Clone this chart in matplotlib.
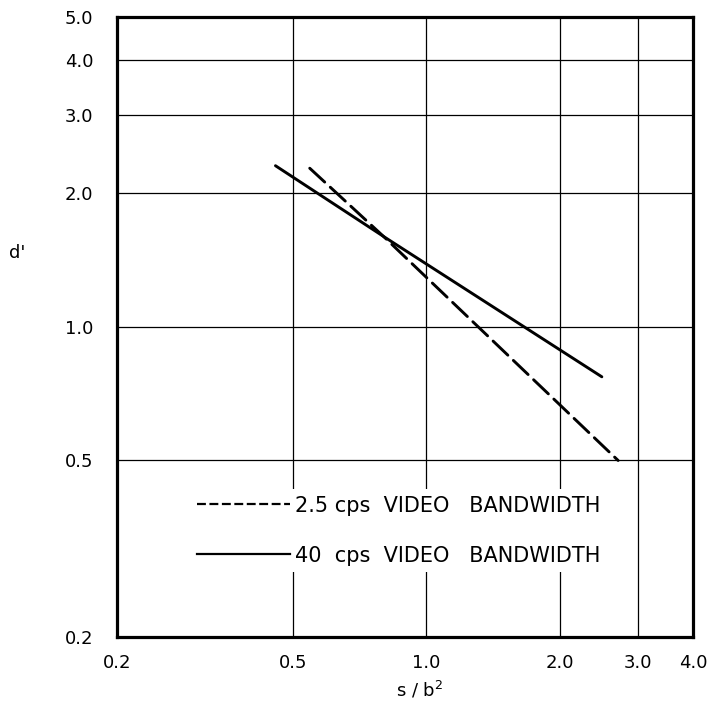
import matplotlib
matplotlib.use("Agg")
import matplotlib.pyplot as plt
from matplotlib.lines import Line2D
from matplotlib.ticker import FixedLocator, NullLocator

# data (log-log straight lines)
sb2_dashed = [0.545, 0.80, 2.71]
d_dashed = [2.28, 1.60, 0.50]
sb2_solid = [0.456, 0.80, 2.49]
d_solid = [2.31, 1.60, 0.772]

x_ticks = [0.2, 0.5, 1.0, 2.0, 3.0, 4.0]
x_ticklabels = ["0.2", "0.5", "1.0", "2.0", "3.0", "4.0"]
y_ticks = [0.2, 0.5, 1.0, 2.0, 3.0, 4.0, 5.0]
y_ticklabels = ["0.2", "0.5", "1.0", "2.0", "3.0", "4.0", "5.0"]
legend_labels = ["2.5 cps  VIDEO   BANDWIDTH", "40  cps  VIDEO   BANDWIDTH"]

fig = plt.figure(figsize=(7.12, 7.04), dpi=100)
ax = fig.add_axes([0.1643, 0.0952, 0.809, 0.8807])

ax.set_xscale("log")
ax.set_yscale("log")
ax.set_xlim(0.2, 4.0)
ax.set_ylim(0.2, 5.0)

# grid lines at the labelled values
for v in x_ticks[1:-1]:
    ax.axvline(v, color="black", lw=0.9, zorder=1)
for v in y_ticks[1:-1]:
    ax.axhline(v, color="black", lw=0.9, zorder=1)

ax.plot(sb2_dashed, d_dashed, color="black", lw=2.1, dashes=(7, 2.6),
        solid_capstyle="round", dash_capstyle="round", zorder=3)
ax.plot(sb2_solid, d_solid, color="black", lw=2.1,
        solid_capstyle="round", zorder=3)

ax.xaxis.set_major_locator(FixedLocator(x_ticks))
ax.xaxis.set_minor_locator(NullLocator())
ax.yaxis.set_major_locator(FixedLocator(y_ticks))
ax.yaxis.set_minor_locator(NullLocator())
ax.set_xticklabels(x_ticklabels)
ax.set_yticklabels(y_ticklabels)
ax.tick_params(length=0, labelsize=13)
ax.tick_params(axis="y", pad=17)
ax.tick_params(axis="x", pad=12)

for s in ax.spines.values():
    s.set_linewidth(2.3)

ax.set_ylabel("d'", rotation=0, fontsize=13, ha="center", va="center")
ax.yaxis.set_label_coords(-0.174, 0.619)
ax.set_xlabel("s / b$^{2}$", fontsize=13)
ax.xaxis.set_label_coords(0.526, -0.068)

handles = [Line2D([], [], color="black", lw=1.6, dashes=(4, 1.6)),
           Line2D([], [], color="black", lw=1.6)]
leg = ax.legend(handles, legend_labels, loc="upper left",
                bbox_to_anchor=(0.11, 0.255), fontsize=15,
                handlelength=4.45, handletextpad=0.25, labelspacing=1.45,
                frameon=True, fancybox=False, framealpha=1,
                borderpad=0.3)
leg.get_frame().set_edgecolor("none")
leg.get_frame().set_facecolor("white")
leg.set_zorder(4)

fig.savefig("out.png", dpi=100)
